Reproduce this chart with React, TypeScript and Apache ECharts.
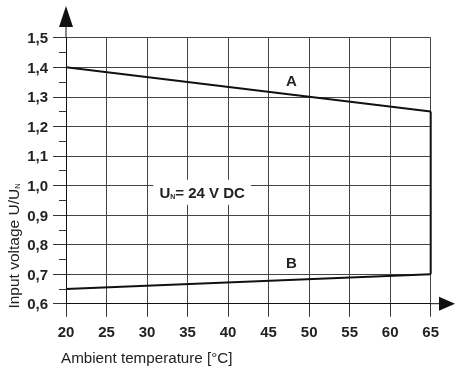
import React, { useEffect, useRef } from "react";
import * as echarts from "echarts";

// Ambient temperature [°C] / relative input voltage boundary
const curveA = [
  [20, 1.4],
  [65, 1.25],
];
const curveB = [
  [20, 0.65],
  [65, 0.7],
];
const edge65 = [
  [65, 1.25],
  [65, 0.7],
];
const xMin = 20;
const xMax = 65;
const xStep = 5;
const yMin = 0.6;
const yMax = 1.5;
const yStep = 0.1;
const curveLabels = [
  { name: "A", x: 47.8, y: 1.355 },
  { name: "B", x: 47.8, y: 0.738 },
];
const noteAt = { x: 36.8, y: 0.977 };

const FONT = "'Liberation Sans', Arial, sans-serif";

export default function App() {
  const ref = useRef<HTMLDivElement>(null);
  useEffect(() => {
    if (!ref.current) return;
    const chart = echarts.init(ref.current, undefined, { renderer: "svg" });
    const lineStyle = { color: "#111", width: 2 };
    chart.setOption({
      animation: false,
      textStyle: { fontFamily: FONT },
      grid: { left: 66, right: 24.3, top: 37.7, bottom: 64.3, containLabel: false },
      xAxis: {
        type: "value",
        min: xMin,
        max: xMax,
        interval: xStep,
        axisLine: { show: true, lineStyle: { color: "#111", width: 1 } },
        axisTick: { show: true, length: 13, lineStyle: { color: "#333" } },
        axisLabel: { margin: 20, fontSize: 15, fontWeight: "bold", color: "#222", fontFamily: FONT },
        splitLine: { show: true, lineStyle: { color: "#444", width: 1 } },
      },
      yAxis: {
        type: "value",
        min: yMin,
        max: yMax,
        interval: yStep,
        axisLine: { show: true, lineStyle: { color: "#111", width: 1 } },
        axisTick: { show: true, length: 13, lineStyle: { color: "#333" } },
        minorTick: { show: true, splitNumber: 2, length: 7, lineStyle: { color: "#333" } },
        axisLabel: {
          margin: 18,
          fontSize: 15,
          fontWeight: "bold",
          color: "#222",
          fontFamily: FONT,
          formatter: (v: number) => v.toFixed(1).replace(".", ","),
        },
        splitLine: { show: true, lineStyle: { color: "#444", width: 1 } },
      },
      series: [
        { type: "line", data: curveA, symbol: "none", lineStyle },
        { type: "line", data: edge65, symbol: "none", lineStyle },
        { type: "line", data: curveB, symbol: "none", lineStyle },
      ],
    });

    const px = (x: number, y: number) => chart.convertToPixel({ gridIndex: 0 }, [x, y]) as number[];
    const origin = px(xMin, yMin);
    const top = px(xMin, yMax);
    const right = px(xMax, yMin);
    const ax = origin[0];
    const ay = origin[1];
    const yTip = top[1] - 31.7;
    const xTip = right[0] + 24.3;

    const graphics: any[] = [
      { type: "line", shape: { x1: ax, y1: top[1], x2: ax, y2: yTip + 12 }, style: { stroke: "#111", lineWidth: 1 } },
      {
        type: "polygon",
        shape: { points: [[ax, yTip], [ax - 7, yTip + 21], [ax + 7, yTip + 21]] },
        style: { fill: "#111" },
      },
      { type: "line", shape: { x1: right[0], y1: ay, x2: xTip - 10, y2: ay }, style: { stroke: "#111", lineWidth: 1 } },
      {
        type: "polygon",
        shape: { points: [[xTip, ay], [xTip - 16, ay - 7], [xTip - 16, ay + 7]] },
        style: { fill: "#111" },
      },
    ];

    curveLabels.forEach((l) => {
      const p = px(l.x, l.y);
      graphics.push({
        type: "text",
        x: p[0],
        y: p[1],
        style: {
          text: l.name,
          fontSize: 15,
          fontWeight: "bold",
          fontFamily: FONT,
          fill: "#222",
          align: "center",
          verticalAlign: "middle",
        },
      });
    });

    const n = px(noteAt.x, noteAt.y);
    graphics.push({
      type: "text",
      x: n[0],
      y: n[1],
      z: 10,
      style: {
        text: "{m|U}{s|N}{m|= 24 V DC}",
        align: "center",
        verticalAlign: "middle",
        backgroundColor: "#fff",
        padding: [5, 6, 5, 6],
        rich: {
          m: { fontSize: 15, fontWeight: "bold", fontFamily: FONT, fill: "#222", color: "#222" },
          s: { fontSize: 7, fontWeight: "bold", fontFamily: FONT, fill: "#222", color: "#222", verticalAlign: "bottom", padding: [6, 0, 0, 0] },
        },
      },
    });

    graphics.push({
      type: "text",
      x: 61,
      y: 357,
      style: {
        text: "Ambient temperature [°C]",
        fontSize: 15.2,
        fontFamily: FONT,
        fill: "#222",
        align: "left",
        verticalAlign: "middle",
      },
    });
    graphics.push({
      type: "text",
      x: 13,
      y: 246,
      rotation: Math.PI / 2,
      style: {
        text: "{m|Input voltage U/U}{s|N}",
        align: "center",
        verticalAlign: "middle",
        rich: {
          m: { fontSize: 15.5, fontFamily: FONT, fill: "#222", color: "#222" },
          s: { fontSize: 7.5, fontFamily: FONT, fill: "#222", color: "#222", verticalAlign: "bottom", padding: [6, 0, 0, 0] },
        },
      },
    });

    chart.setOption({ graphic: graphics });
    return () => chart.dispose();
  }, []);
  return <div ref={ref} style={{ position: "fixed", left: 0, top: 0, width: 455, height: 368 }} />;
}
